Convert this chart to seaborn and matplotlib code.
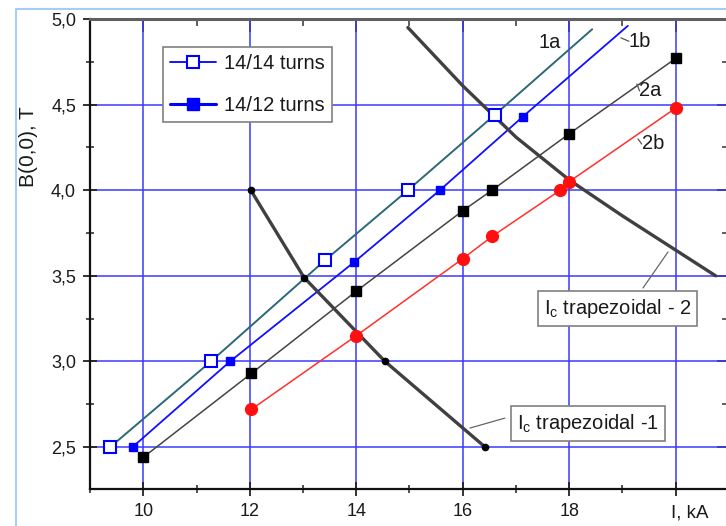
import numpy as np
import pandas as pd
import seaborn as sns
import matplotlib.pyplot as plt
from matplotlib.lines import Line2D
from matplotlib.ticker import MultipleLocator

# values (I in kA, B in T)
x_1a = [9.38, 11.27, 13.41, 14.97, 16.60]
y_1a = [2.50, 3.00, 3.59, 4.00, 4.44]
x_1a_end = 18.43
y_1a_end = 4.94

x_1b = [9.80, 11.63, 13.96, 15.57, 17.13]
y_1b = [2.50, 3.00, 3.58, 4.00, 4.43]
x_1b_end = 19.10
y_1b_end = 4.96

x_2a = [10.00, 12.03, 14.00, 16.00, 16.55, 18.00, 20.00]
y_2a = [2.44, 2.93, 3.41, 3.88, 4.00, 4.33, 4.77]

x_2b = [12.03, 14.00, 16.00, 16.55, 17.83, 18.00, 20.00]
y_2b = [2.72, 3.15, 3.60, 3.73, 4.00, 4.05, 4.48]

x_ic1 = [12.02, 13.02, 14.54, 16.42]
y_ic1 = [4.00, 3.49, 3.00, 2.50]

x_ic2 = [14.97, 16.00, 17.00, 18.00, 19.00, 20.00, 20.75]
y_ic2 = [4.95, 4.61, 4.31, 4.06, 3.85, 3.65, 3.50]

x_ticks = [10, 12, 14, 16, 18, 20]
x_ticklabels = ['10', '12', '14', '16', '18', '']
y_ticks = [2.5, 3.0, 3.5, 4.0, 4.5, 5.0]
y_ticklabels = ['2,5', '3,0', '3,5', '4,0', '4,5', '5,0']

sns.set_style('white')
plt.rcParams['font.family'] = ['Liberation Sans', 'DejaVu Sans']

fig = plt.figure(figsize=(7.26, 5.26), dpi=100)
ax = fig.add_axes([90 / 726, 37 / 526, 639 / 726, 470 / 526])

ax.set_xlim(9, 21)
ax.set_ylim(2.255, 5.0)

# grid
ax.set_xticks(x_ticks)
ax.set_yticks(y_ticks)
ax.grid(which='major', color='#3a3aff', lw=1.1)
ax.set_axisbelow(True)

# lines
sns.lineplot(x=x_1a + [x_1a_end], y=y_1a + [y_1a_end], ax=ax, color='#2c6878',
             lw=1.4, estimator=None, sort=False)
sns.lineplot(x=x_1b + [x_1b_end], y=y_1b + [y_1b_end], ax=ax, color='#1010ff',
             lw=1.3, estimator=None, sort=False)
sns.lineplot(x=x_2a, y=y_2a, ax=ax, color='#444444', lw=1.1, estimator=None, sort=False)
sns.lineplot(x=x_2b, y=y_2b, ax=ax, color='#ff3030', lw=1.1, estimator=None, sort=False)
sns.lineplot(x=x_ic1, y=y_ic1, ax=ax, color='#404040', lw=2.4, estimator=None, sort=False)
sns.lineplot(x=x_ic2, y=y_ic2, ax=ax, color='#404040', lw=2.4, estimator=None, sort=False)

# markers
ax.plot(x_1a, y_1a, ls='none', marker='s', ms=9, mfc='white', mec='#0000ff', mew=1.5, zorder=4)
ax.plot(x_1b, y_1b, ls='none', marker='s', ms=5.5, mfc='#0000ff', mec='#0000ff', zorder=4)
ax.plot(x_2a, y_2a, ls='none', marker='s', ms=7.2, mfc='black', mec='black', zorder=4)
ax.plot(x_2b, y_2b, ls='none', marker='o', ms=8.5, mfc='#ff1010', mec='#ff1010', zorder=4)
ax.plot(x_ic1, y_ic1, ls='none', marker='o', ms=4.5, mfc='black', mec='black', zorder=5)

# curve labels
lab_kw = dict(fontsize=14.5, color='#1a1a1a', ha='center', va='center')
ax.text(17.64, 4.86, '1a', **lab_kw)
ax.text(19.33, 4.87, '1b', **lab_kw)
ax.text(19.52, 4.58, '2a', **lab_kw)
ax.text(19.58, 4.27, '2b', **lab_kw)
for (x0, y0, x1, y1) in [(18.97, 4.89, 19.12, 4.87), (19.27, 4.62, 19.32, 4.58),
                         (19.29, 4.30, 19.36, 4.27)]:
    ax.plot([x0, x1], [y0, y1], color='#555555', lw=0.9)

# box labels with leaders
box_kw = dict(boxstyle='square,pad=0.3', fc='white', ec='#808080', lw=1.2)
ax.text(18.906, 3.309, r'$\mathregular{I_c}$ trapezoidal - 2', fontsize=14.5,
        ha='center', va='center', color='#1a1a1a', bbox=box_kw, zorder=6)
ax.text(18.352, 2.637, r'$\mathregular{I_c}$ trapezoidal -1', fontsize=14.5,
        ha='center', va='center', color='#1a1a1a', bbox=box_kw, zorder=6)
ax.plot([19.385, 19.854], [3.429, 3.639], color='#666666', lw=0.9)
ax.plot([16.79, 16.136], [2.669, 2.611], color='#666666', lw=0.9)

# legend
handles = [Line2D([], [], color='#0000ff', lw=1.3, marker='s', ms=9, mfc='white', mew=1.5),
           Line2D([], [], color='#0000ff', lw=2.2, marker='s', ms=8, mfc='#0000ff')]
leg = ax.legend(handles, ['14/14 turns', '14/12 turns'], loc='upper left',
                bbox_to_anchor=(0.114, 0.940), borderaxespad=0, fontsize=14.5,
                handlelength=2.3, handletextpad=0.4, labelspacing=1.15,
                borderpad=0.35, fancybox=False, framealpha=1)
leg.get_frame().set_edgecolor('#808080')
leg.get_frame().set_linewidth(1.2)
for t in leg.get_texts():
    t.set_color('#1a1a1a')

# ticks and spines
ax.xaxis.set_minor_locator(MultipleLocator(1))
ax.yaxis.set_minor_locator(MultipleLocator(0.25))
ax.set_xticklabels(x_ticklabels)
ax.set_yticklabels(y_ticklabels)
ax.tick_params(which='major', direction='inout', length=10, width=1.3,
               labelsize=13, labelcolor='#1a1a1a', color='#222222', pad=5)
ax.tick_params(which='minor', direction='inout', length=6, width=1.1, color='#222222')
ax.tick_params(axis='x', which='both', bottom=True)
ax.tick_params(axis='y', which='both', left=True)
for side in ['left', 'bottom']:
    ax.spines[side].set_color('#111111')
    ax.spines[side].set_linewidth(1.6)
ax.spines['top'].set_color('#606060')
ax.spines['top'].set_linewidth(2.2)
ax.spines['right'].set_color('#606060')

top = ax.secondary_xaxis('top')
top.set_xticks(x_ticks)
top.xaxis.set_minor_locator(MultipleLocator(1))
top.tick_params(which='major', direction='in', length=9, width=1.3, color='#333333',
                labeltop=False)
top.tick_params(which='minor', direction='in', length=5, width=1.1, color='#333333')
top.spines['top'].set_visible(False)
right = ax.secondary_yaxis('right')
right.set_yticks(y_ticks)
right.yaxis.set_minor_locator(MultipleLocator(0.25))
right.tick_params(which='major', direction='in', length=9, width=1.3, color='#333333',
                  labelright=False)
right.tick_params(which='minor', direction='in', length=5, width=1.1, color='#333333')

ax.set_xlabel('')
ax.set_ylabel('')
fig.text(690 / 726, 1 - 513 / 526, 'I, kA', fontsize=13.5, ha='center', va='center',
         color='#1a1a1a')
fig.text(28 / 726, 1 - 147 / 526, 'B(0,0), T', fontsize=15, rotation=90,
         ha='center', va='center', color='#1a1a1a')

# outer window frame
fig.add_artist(Line2D([16 / 726, 16 / 726], [0, 1 - 9 / 526], color='#a8ccf4', lw=1.5))
fig.add_artist(Line2D([16 / 726, 1], [1 - 9 / 526, 1 - 9 / 526], color='#a8ccf4', lw=1.5))

fig.savefig('out.png', dpi=100)
